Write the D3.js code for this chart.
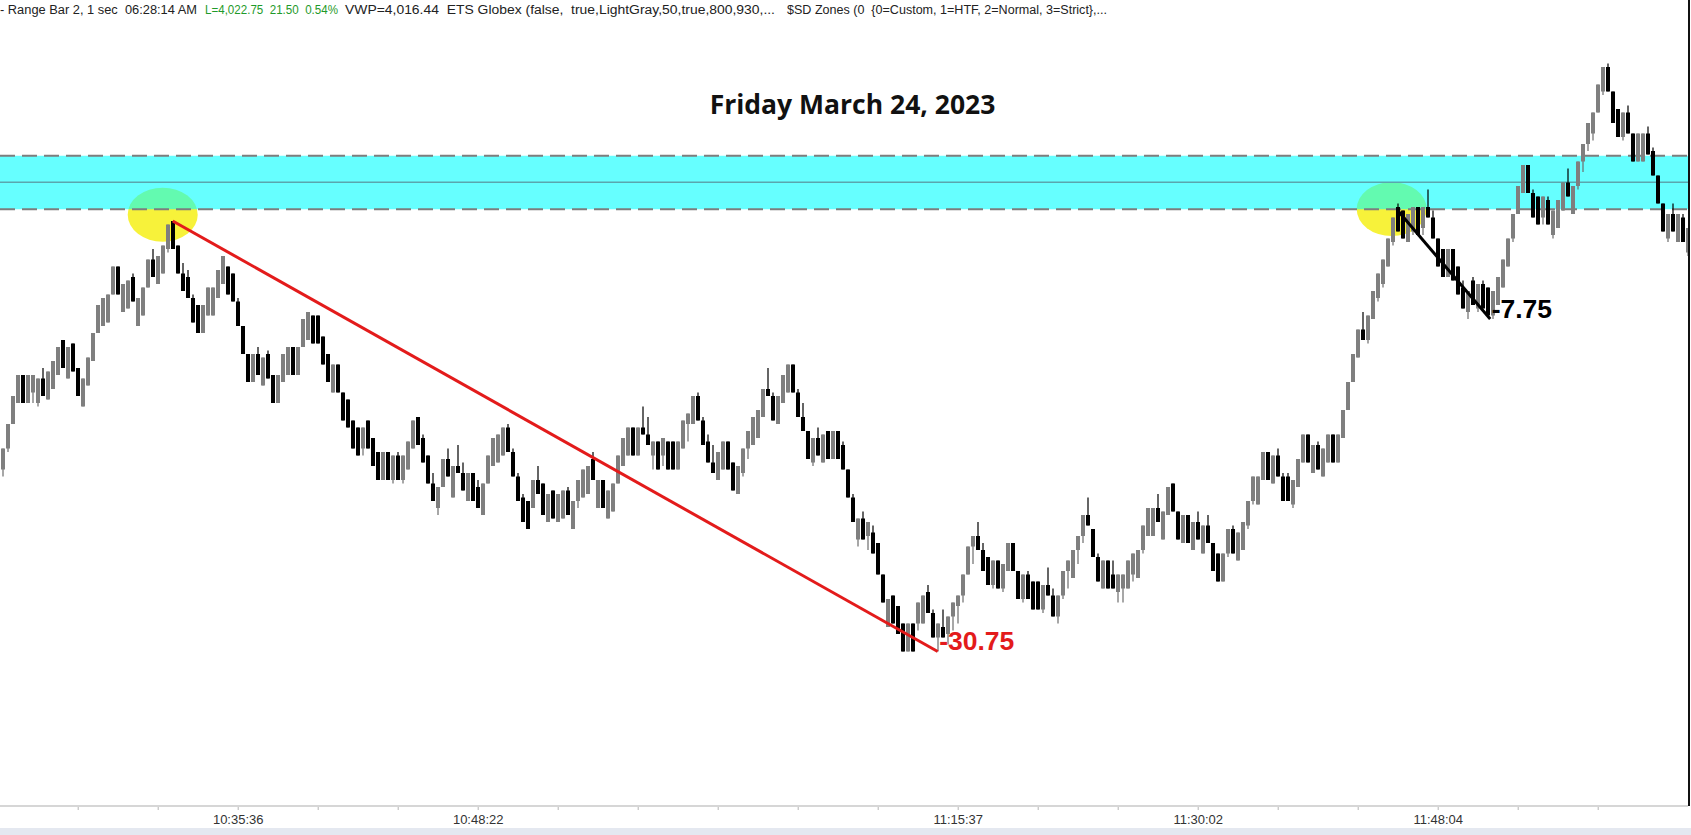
<!DOCTYPE html>
<html>
<head>
<meta charset="utf-8">
<script src="https://cdn.jsdelivr.net/npm/d3@7/dist/d3.min.js"></script>
<style>
  html, body { margin: 0; padding: 0; background: #fff; }
  svg { display: block; }
</style>
</head>
<body>
<script>
// Range bars (2 point range), one open and one close per bar
const opens = [
  3972.25, 3973.75, 3975.5, 3977.0, 3979.0, 3977.0, 3977.75, 3977.0, 3978.75, 3977.25,
  3978.0, 3979.0, 3981.5, 3978.75, 3981.25, 3979.5, 3976.75, 3978.25, 3980.0, 3982.0,
  3982.5, 3982.75, 3984.75, 3986.75, 3983.5, 3983.75, 3986.0, 3982.5, 3983.25, 3985.25,
  3987.25, 3985.5, 3986.25, 3988.0, 3990.0, 3988.25, 3986.25, 3986.0, 3984.5, 3984.0,
  3982.0, 3983.25, 3983.25, 3984.5, 3985.5, 3986.75, 3986.25, 3984.25, 3982.5, 3980.5,
  3978.5, 3980.5, 3978.25, 3980.5, 3979.0, 3977.0, 3978.5, 3979.0, 3981.0, 3979.0,
  3981.0, 3981.5, 3983.25, 3983.25, 3981.75, 3980.5, 3977.75, 3979.75, 3977.75, 3977.25,
  3975.75, 3975.25, 3973.75, 3975.75, 3974.5, 3973.5, 3971.5, 3973.5, 3971.5, 3973.25,
  3971.5, 3972.25, 3973.75, 3976.0, 3974.5, 3973.25, 3971.25, 3969.5, 3971.0, 3973.0,
  3970.25, 3972.5, 3972.0, 3970.0, 3972.0, 3971.0, 3969.0, 3971.25, 3972.5, 3972.75,
  3973.25, 3975.25, 3973.5, 3971.75, 3970.25, 3970.0, 3969.5, 3971.5, 3971.25, 3968.5,
  3970.75, 3968.5, 3968.75, 3970.75, 3968.0, 3970.0, 3970.25, 3970.5, 3973.0, 3969.5,
  3971.5, 3968.75, 3969.25, 3971.25, 3972.5, 3973.25, 3975.25, 3973.25, 3975.25, 3974.75,
  3973.25, 3974.25, 3973.25, 3974.25, 3974.25, 3972.25, 3973.75, 3975.5, 3975.5, 3977.5,
  3975.75, 3974.25, 3972.75, 3971.5, 3972.25, 3974.25, 3972.75, 3970.5, 3972.0, 3973.75,
  3974.0, 3974.5, 3976.0, 3978.0, 3977.5, 3975.5, 3977.0, 3977.75, 3979.75, 3977.75,
  3976.0, 3975.0, 3972.75, 3974.5, 3972.75, 3975.0, 3973.0, 3975.0, 3974.0, 3972.25,
  3970.25, 3967.25, 3968.75, 3967.5, 3967.75, 3967.0, 3964.75, 3961.0, 3963.25, 3962.5,
  3961.25, 3959.25, 3961.25, 3961.25, 3961.25, 3963.5, 3962.0, 3960.25, 3961.0, 3960.5,
  3961.75, 3962.5, 3963.25, 3964.75, 3966.75, 3967.5, 3966.5, 3966.0, 3964.0, 3965.75,
  3963.75, 3965.0, 3967.0, 3965.0, 3963.0, 3964.75, 3964.25, 3964.25, 3962.25, 3964.0,
  3963.25, 3961.75, 3963.25, 3965.0, 3964.5, 3966.5, 3967.5, 3969.0, 3968.0, 3966.0,
  3963.75, 3965.75, 3964.75, 3963.5, 3963.75, 3963.75, 3964.75, 3964.5, 3966.5, 3967.5,
  3967.5, 3969.5, 3967.25, 3969.0, 3971.25, 3969.25, 3967.0, 3969.0, 3966.5, 3968.5,
  3966.25, 3968.25, 3967.0, 3966.25, 3964.25, 3966.25, 3968.0, 3965.75, 3966.5, 3968.25,
  3970.0, 3969.75, 3971.5, 3973.5, 3971.25, 3973.25, 3971.75, 3971.75, 3969.75, 3971.0,
  3972.75, 3974.75, 3972.0, 3974.0, 3971.75, 3972.75, 3974.75, 3972.75, 3974.5, 3976.5,
  3978.5, 3980.25, 3982.25, 3981.5, 3983.0, 3984.5, 3985.5, 3986.75, 3988.5, 3991.0,
  3990.75, 3988.5, 3989.25, 3991.0, 3989.5, 3991.0, 3990.25, 3988.75, 3988.0, 3986.0,
  3988.0, 3986.75, 3985.25, 3983.5, 3985.75, 3983.75, 3985.5, 3985.25, 3983.25, 3984.0,
  3985.25, 3986.75, 3988.75, 3990.5, 3992.0, 3994.0, 3992.0, 3991.75, 3990.25, 3991.5,
  3989.0, 3989.5, 3990.75, 3992.75, 3990.5, 3992.5, 3994.25, 3995.5, 3996.25, 3997.75,
  3999.25, 4001.0, 3999.25, 3998.0, 3996.0, 3997.75, 3996.25, 3994.25, 3994.25, 3996.25,
  3995.0, 3993.25, 3991.25, 3988.75, 3990.5, 3988.5, 3990.25, 3987.75
];
const closes = [
  3973.75, 3975.5, 3977.5, 3979.0, 3977.0, 3979.0, 3979.0, 3978.75, 3977.5, 3979.25,
  3980.0, 3981.0, 3979.5, 3981.0, 3979.25, 3977.5, 3978.75, 3980.25, 3982.0, 3984.0,
  3984.5, 3984.75, 3986.75, 3984.75, 3985.5, 3985.75, 3984.25, 3984.5, 3985.25, 3987.25,
  3986.0, 3987.5, 3988.25, 3989.75, 3988.0, 3986.25, 3985.0, 3984.5, 3982.75, 3982.0,
  3984.0, 3985.25, 3985.25, 3986.5, 3987.5, 3984.75, 3984.25, 3982.5, 3980.5, 3978.5,
  3980.5, 3979.0, 3980.25, 3978.75, 3977.0, 3979.0, 3980.5, 3981.0, 3979.0, 3981.0,
  3983.0, 3983.5, 3981.25, 3981.25, 3979.75, 3978.5, 3979.75, 3977.75, 3975.75, 3975.25,
  3973.75, 3973.25, 3975.25, 3973.75, 3972.5, 3971.5, 3973.5, 3971.5, 3973.25, 3971.5,
  3973.25, 3974.25, 3975.75, 3974.0, 3972.75, 3971.25, 3970.0, 3971.0, 3973.0, 3971.75,
  3972.5, 3972.0, 3970.75, 3972.0, 3970.0, 3969.5, 3971.25, 3973.25, 3974.5, 3974.75,
  3975.25, 3973.5, 3971.75, 3970.0, 3968.5, 3968.0, 3971.5, 3970.5, 3969.0, 3970.5,
  3968.75, 3970.5, 3970.75, 3969.0, 3970.0, 3971.5, 3972.25, 3972.5, 3971.5, 3971.5,
  3969.5, 3970.75, 3971.25, 3973.25, 3974.5, 3975.25, 3973.25, 3975.25, 3974.75, 3974.0,
  3974.25, 3972.25, 3974.5, 3972.25, 3972.25, 3974.25, 3975.75, 3976.25, 3977.5, 3975.75,
  3974.0, 3972.75, 3972.0, 3973.5, 3974.25, 3972.25, 3970.75, 3972.5, 3973.75, 3975.0,
  3976.0, 3976.5, 3978.0, 3977.5, 3975.75, 3977.5, 3979.0, 3979.75, 3977.75, 3976.0,
  3975.0, 3973.0, 3974.5, 3973.25, 3974.75, 3973.0, 3975.0, 3973.0, 3972.25, 3970.25,
  3968.5, 3968.75, 3967.25, 3968.5, 3966.25, 3964.75, 3962.75, 3963.0, 3961.25, 3960.5,
  3959.25, 3961.25, 3959.25, 3962.75, 3963.25, 3962.0, 3960.25, 3961.25, 3960.25, 3961.75,
  3962.75, 3963.25, 3964.75, 3966.75, 3967.5, 3966.5, 3965.0, 3964.0, 3965.75, 3963.75,
  3965.5, 3967.0, 3965.0, 3963.0, 3964.75, 3963.0, 3962.25, 3962.25, 3964.0, 3963.25,
  3961.75, 3963.25, 3965.0, 3965.75, 3966.5, 3967.5, 3969.0, 3968.25, 3966.0, 3964.25,
  3965.75, 3963.75, 3963.75, 3964.75, 3964.75, 3965.75, 3966.25, 3966.5, 3968.25, 3969.5,
  3969.5, 3968.5, 3969.25, 3971.0, 3969.25, 3967.25, 3969.0, 3967.0, 3968.5, 3967.25,
  3968.25, 3967.0, 3965.0, 3964.25, 3966.25, 3968.0, 3966.25, 3967.75, 3968.5, 3970.0,
  3971.75, 3971.75, 3973.5, 3971.5, 3973.25, 3971.75, 3970.0, 3970.0, 3971.5, 3973.0,
  3974.75, 3972.75, 3974.0, 3972.25, 3973.75, 3974.75, 3972.75, 3974.75, 3976.5, 3978.5,
  3980.5, 3982.25, 3981.5, 3983.25, 3985.0, 3986.25, 3987.25, 3988.75, 3990.25, 3989.25,
  3988.75, 3990.5, 3991.0, 3989.0, 3991.0, 3990.25, 3988.75, 3986.75, 3986.0, 3988.0,
  3985.75, 3984.75, 3983.75, 3985.0, 3984.0, 3985.5, 3983.75, 3983.25, 3985.0, 3986.0,
  3987.25, 3988.75, 3990.5, 3992.5, 3994.0, 3992.0, 3990.25, 3989.75, 3991.75, 3989.75,
  3990.75, 3991.5, 3992.75, 3991.75, 3992.5, 3994.25, 3995.5, 3997.0, 3997.75, 3999.75,
  4001.0, 3999.25, 3997.0, 3996.0, 3997.75, 3996.25, 3994.25, 3996.25, 3996.25, 3994.75,
  3993.25, 3991.25, 3989.25, 3990.5, 3989.25, 3990.5, 3988.5, 3989.5
];
const RANGE = 2;

// time axis: a tick every 16 bars, labels only on some
const tickBars = [15, 31, 47, 63, 79, 95, 111, 127, 143, 159, 175, 191, 207, 223, 239, 255, 271, 287, 303, 319];
const labelBars = [47, 95, 191, 239, 287];
const labelTimes = ["10:35:36", "10:48:22", "11:15:37", "11:30:02", "11:48:04"];

// supply/demand zone
const zoneTop = 3994.66;
const zoneMid = 3992.76;
const zoneBottom = 3990.84;

// highlighted tops (bar, price)
const spotBars = [32, 277.8];
const spotPrices = [3990.45, 3990.85];

// measured moves: start bar/price -> end bar/price
const moveStartBars = [34, 279];
const moveStartPrices = [3990.0, 3990.75];
const moveEndBars = [187, 297.5];
const moveEndPrices = [3959.25, 3983.0];
const moveColors = ["#e31b1b", "#000000"];

const title = "Friday March 24, 2023";

const width = 1691;
const height = 835;

const svg = d3.select("body")
  .append("svg")
  .attr("width", width)
  .attr("height", height);

const x = d3.scaleLinear().domain([0, opens.length - 1]).range([2.7, 1687.7]);
const y = d3.scaleLinear().domain([3950, 4000]).range([781, 81]);

const bars = opens.map((o, i) => {
  const c = closes[i];
  const up = c >= o;
  const high = up ? Math.max(c, o) : Math.max(c + RANGE, o);
  const low = up ? Math.min(c - RANGE, o) : Math.min(c, o);
  return { i: i, open: o, close: c, high: high, low: low, up: up };
});

// yellow highlights (under the zone so the overlap turns green)
svg.selectAll("ellipse.spot")
  .data(spotBars)
  .enter()
  .append("ellipse")
  .attr("class", "spot")
  .attr("cx", d => x(d))
  .attr("cy", (d, i) => y(spotPrices[i]))
  .attr("rx", 35)
  .attr("ry", 27)
  .attr("fill", "#f7f23a");

// zone band
svg.append("rect")
  .attr("x", 0)
  .attr("y", y(zoneTop))
  .attr("width", 1688)
  .attr("height", y(zoneBottom) - y(zoneTop))
  .attr("fill", "#00ffff")
  .attr("fill-opacity", 0.6);

svg.append("line")
  .attr("x1", 0).attr("x2", 1688)
  .attr("y1", y(zoneMid)).attr("y2", y(zoneMid))
  .attr("stroke", "#5aa6ae")
  .attr("stroke-width", 1.5);

svg.selectAll("line.zone-edge")
  .data([zoneTop, zoneBottom])
  .enter()
  .append("line")
  .attr("class", "zone-edge")
  .attr("x1", 0).attr("x2", 1688)
  .attr("y1", d => y(d)).attr("y2", d => y(d))
  .attr("stroke", "#7d7d7d")
  .attr("stroke-width", 2)
  .attr("stroke-dasharray", "15,7");

// candles
const candle = svg.append("g")
  .selectAll("g")
  .data(bars)
  .enter()
  .append("g");

candle.append("rect")
  .attr("x", d => Math.round(x(d.i)) - 0.6)
  .attr("width", 1.2)
  .attr("y", d => y(d.high))
  .attr("height", d => y(d.low) - y(d.high))
  .attr("fill", d => (d.up ? "#6e6e6e" : "#000"));

candle.append("rect")
  .attr("x", d => Math.round(x(d.i)) - 2)
  .attr("width", 4)
  .attr("y", d => y(Math.max(d.open, d.close)))
  .attr("height", d => Math.max(1, y(Math.min(d.open, d.close)) - y(Math.max(d.open, d.close))))
  .attr("fill", d => (d.up ? "#7f7f7f" : "#000"));

// measured moves
moveStartBars.forEach((b, k) => {
  const x2 = x(moveEndBars[k]);
  const y2 = y(moveEndPrices[k]);
  svg.append("line")
    .attr("x1", x(b)).attr("y1", y(moveStartPrices[k]))
    .attr("x2", x2).attr("y2", y2)
    .attr("stroke", moveColors[k])
    .attr("stroke-width", 3);
  const diff = moveEndPrices[k] - moveStartPrices[k];
  svg.append("text")
    .attr("x", x2 + 1.5)
    .attr("y", y2 - 1.5)
    .attr("font-family", "'Liberation Sans', Arial, sans-serif")
    .attr("font-weight", "bold")
    .attr("font-size", 26.5)
    .attr("fill", moveColors[k])
    .text(diff.toFixed(2));
});

// title
svg.append("text")
  .attr("x", 852.5)
  .attr("y", 114)
  .attr("text-anchor", "middle")
  .attr("font-family", "'Open Sans', sans-serif")
  .attr("font-weight", "bold")
  .attr("font-size", 26.5)
  .attr("fill", "#111")
  .text(title);

// header line
const header = svg.append("text")
  .attr("y", 14)
  .attr("font-family", "'Liberation Sans Narrow', 'Arial Narrow', 'Liberation Sans', sans-serif")
  .attr("font-size", 12.5)
  .attr("fill", "#222")
  .style("white-space", "pre");

const headerParts = [
  { text: "- Range Bar 2, 1 sec  06:28:14 AM", x: 0, w: 197, color: "#222" },
  { text: "L=4,022.75  21.50  0.54%", x: 205, w: 133, color: "#1f9a2a" },
  { text: "VWP=4,016.44  ETS Globex (false,  true,LightGray,50,true,800,930,...", x: 345, w: 430, color: "#222" },
  { text: "$SD Zones (0  {0=Custom, 1=HTF, 2=Normal, 3=Strict},...", x: 787, w: 320, color: "#222" }
];
headerParts.forEach(p => {
  header.append("tspan")
    .attr("x", p.x)
    .attr("textLength", p.w)
    .attr("lengthAdjust", "spacingAndGlyphs")
    .attr("fill", p.color)
    .text(p.text);
});

// time axis
const xAxis = d3.axisBottom(x)
  .tickValues(tickBars)
  .tickSize(4)
  .tickPadding(5)
  .tickFormat(b => {
    const k = labelBars.indexOf(b);
    return k >= 0 ? labelTimes[k] : "";
  });

const axisG = svg.append("g")
  .attr("transform", "translate(0,806)")
  .call(xAxis);

axisG.select(".domain").remove();
axisG.selectAll(".tick line").attr("stroke", "#b5b5b5");
axisG.selectAll(".tick text")
  .attr("font-family", "'Liberation Sans', Arial, sans-serif")
  .attr("font-size", 13)
  .attr("fill", "#333");

svg.append("line")
  .attr("x1", 0).attr("x2", 1688)
  .attr("y1", 806).attr("y2", 806)
  .attr("stroke", "#d6d6d6")
  .attr("stroke-width", 2);

// right border and bottom strip
svg.append("line")
  .attr("x1", 1689).attr("x2", 1689)
  .attr("y1", 0).attr("y2", 806)
  .attr("stroke", "#111")
  .attr("stroke-width", 2);

svg.append("rect")
  .attr("x", 0).attr("y", 828)
  .attr("width", width).attr("height", height - 828)
  .attr("fill", "#e4e8f0");
</script>
</body>
</html>
